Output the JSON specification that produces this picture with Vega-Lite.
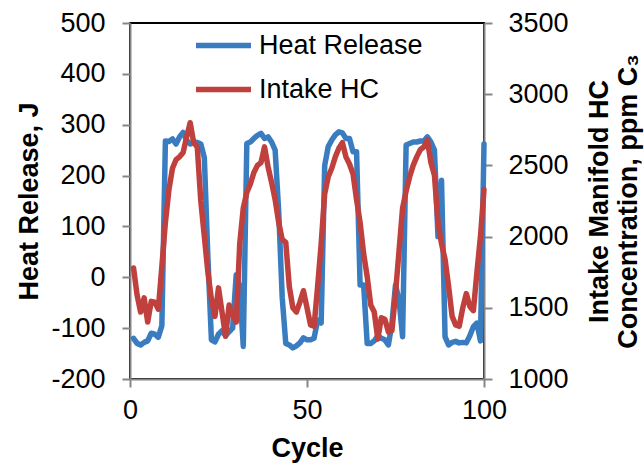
{
  "$schema": "https://vega.github.io/schema/vega-lite/v6.json",
  "width": 354,
  "height": 356,
  "autosize": {"type": "none"},
  "padding": {"left": 130, "top": 23, "right": 160, "bottom": 84},
  "background": "white",
  "config": {
    "font": "Liberation Sans",
    "view": {"stroke": "#000000", "strokeWidth": 2},
    "axis": {
      "grid": false,
      "domainColor": "#868686",
      "domainWidth": 2,
      "tickColor": "#868686",
      "tickWidth": 2,
      "tickSize": 8,
      "labelFont": "Liberation Sans",
      "labelFontSize": 27,
      "labelColor": "#000000",
      "titleFont": "Liberation Sans",
      "titleFontSize": 27,
      "titleFontWeight": "bold",
      "titleColor": "#000000"
    },
    "legend": {
      "labelFont": "Liberation Sans",
      "labelFontSize": 27,
      "labelColor": "#000000",
      "labelLimit": 0
    }
  },
  "data": {
    "values": [
      {"cycle": 1, "hr": -120, "hc": 1780},
      {"cycle": 2, "hr": -130, "hc": 1590},
      {"cycle": 3, "hr": -133, "hc": 1470},
      {"cycle": 4, "hr": -128, "hc": 1570},
      {"cycle": 5, "hr": -125, "hc": 1400},
      {"cycle": 6, "hr": -110, "hc": 1545},
      {"cycle": 7, "hr": -112, "hc": 1540},
      {"cycle": 8, "hr": -118, "hc": 1490},
      {"cycle": 9, "hr": -95, "hc": 1790},
      {"cycle": 10, "hr": 268, "hc": 2100},
      {"cycle": 11, "hr": 267, "hc": 2330},
      {"cycle": 12, "hr": 272, "hc": 2480},
      {"cycle": 13, "hr": 262, "hc": 2540},
      {"cycle": 14, "hr": 276, "hc": 2560},
      {"cycle": 15, "hr": 285, "hc": 2590},
      {"cycle": 16, "hr": 270, "hc": 2700},
      {"cycle": 17, "hr": 262, "hc": 2800},
      {"cycle": 18, "hr": 266, "hc": 2660},
      {"cycle": 19, "hr": 265, "hc": 2630},
      {"cycle": 20, "hr": 262, "hc": 2250},
      {"cycle": 21, "hr": 235, "hc": 2000},
      {"cycle": 22, "hr": 40, "hc": 1750},
      {"cycle": 23, "hr": -123, "hc": 1560},
      {"cycle": 24, "hr": -127, "hc": 1440},
      {"cycle": 25, "hr": -112, "hc": 1640},
      {"cycle": 26, "hr": -105, "hc": 1470},
      {"cycle": 27, "hr": -115, "hc": 1300},
      {"cycle": 28, "hr": -107, "hc": 1520},
      {"cycle": 29, "hr": -100, "hc": 1450},
      {"cycle": 30, "hr": 5, "hc": 1400},
      {"cycle": 31, "hr": -20, "hc": 1950},
      {"cycle": 32, "hr": -136, "hc": 2200},
      {"cycle": 33, "hr": 263, "hc": 2310},
      {"cycle": 34, "hr": 266, "hc": 2370},
      {"cycle": 35, "hr": 273, "hc": 2450},
      {"cycle": 36, "hr": 279, "hc": 2500},
      {"cycle": 37, "hr": 283, "hc": 2520},
      {"cycle": 38, "hr": 273, "hc": 2630},
      {"cycle": 39, "hr": 276, "hc": 2490},
      {"cycle": 40, "hr": 266, "hc": 2380},
      {"cycle": 41, "hr": 250, "hc": 2260},
      {"cycle": 42, "hr": 130, "hc": 2100},
      {"cycle": 43, "hr": -40, "hc": 1980},
      {"cycle": 44, "hr": -130, "hc": 1960},
      {"cycle": 45, "hr": -133, "hc": 1650},
      {"cycle": 46, "hr": -139, "hc": 1500},
      {"cycle": 47, "hr": -135, "hc": 1470},
      {"cycle": 48, "hr": -129, "hc": 1540},
      {"cycle": 49, "hr": -119, "hc": 1620},
      {"cycle": 50, "hr": -123, "hc": 1500},
      {"cycle": 51, "hr": -123, "hc": 1380},
      {"cycle": 52, "hr": -120, "hc": 1370},
      {"cycle": 53, "hr": -84, "hc": 1650},
      {"cycle": 54, "hr": -90, "hc": 1950},
      {"cycle": 55, "hr": 220, "hc": 2300},
      {"cycle": 56, "hr": 257, "hc": 2420},
      {"cycle": 57, "hr": 270, "hc": 2480},
      {"cycle": 58, "hr": 280, "hc": 2560},
      {"cycle": 59, "hr": 286, "hc": 2620},
      {"cycle": 60, "hr": 284, "hc": 2660},
      {"cycle": 61, "hr": 273, "hc": 2560},
      {"cycle": 62, "hr": 273, "hc": 2510},
      {"cycle": 63, "hr": 247, "hc": 2440},
      {"cycle": 64, "hr": 247, "hc": 2260},
      {"cycle": 65, "hr": -15, "hc": 2100},
      {"cycle": 66, "hr": -15, "hc": 1880},
      {"cycle": 67, "hr": -130, "hc": 1720},
      {"cycle": 68, "hr": -130, "hc": 1520},
      {"cycle": 69, "hr": -125, "hc": 1470},
      {"cycle": 70, "hr": -115, "hc": 1280},
      {"cycle": 71, "hr": -120, "hc": 1430},
      {"cycle": 72, "hr": -123, "hc": 1420},
      {"cycle": 73, "hr": -133, "hc": 1330},
      {"cycle": 74, "hr": -90, "hc": 1340},
      {"cycle": 75, "hr": -15, "hc": 1600},
      {"cycle": 76, "hr": -45, "hc": 1900},
      {"cycle": 77, "hr": -117, "hc": 2200},
      {"cycle": 78, "hr": 260, "hc": 2320},
      {"cycle": 79, "hr": 263, "hc": 2420},
      {"cycle": 80, "hr": 266, "hc": 2500},
      {"cycle": 81, "hr": 266, "hc": 2560},
      {"cycle": 82, "hr": 268, "hc": 2610},
      {"cycle": 83, "hr": 268, "hc": 2630},
      {"cycle": 84, "hr": 276, "hc": 2680},
      {"cycle": 85, "hr": 266, "hc": 2520},
      {"cycle": 86, "hr": 250, "hc": 2430},
      {"cycle": 87, "hr": 80, "hc": 2100},
      {"cycle": 88, "hr": 191, "hc": 1950},
      {"cycle": 89, "hr": -117, "hc": 1840},
      {"cycle": 90, "hr": -133, "hc": 1650},
      {"cycle": 91, "hr": -128, "hc": 1440},
      {"cycle": 92, "hr": -126, "hc": 1380},
      {"cycle": 93, "hr": -129, "hc": 1370},
      {"cycle": 94, "hr": -128, "hc": 1500},
      {"cycle": 95, "hr": -129, "hc": 1600},
      {"cycle": 96, "hr": -115, "hc": 1510},
      {"cycle": 97, "hr": -97, "hc": 1480},
      {"cycle": 98, "hr": -90, "hc": 1750},
      {"cycle": 99, "hr": -125, "hc": 2000},
      {"cycle": 100, "hr": 262, "hc": 2330}
    ]
  },
  "encoding": {
    "x": {
      "field": "cycle",
      "type": "quantitative",
      "scale": {"domain": [0, 100], "nice": false, "zero": false},
      "axis": {
        "values": [0, 50, 100],
        "labelPadding": 10,
        "labelFlush": false,
        "title": "Cycle",
        "titleBaseline": "alphabetic",
        "titleY": 77
      }
    }
  },
  "layer": [
    {
      "mark": {"type": "line", "strokeWidth": 5.5, "strokeJoin": "round", "strokeCap": "round"},
      "encoding": {
        "y": {
          "field": "hr",
          "type": "quantitative",
          "scale": {"domain": [-200, 500], "nice": false, "zero": false},
          "axis": {
            "orient": "left",
            "values": [-200, -100, 0, 100, 200, 300, 400, 500],
            "labelPadding": 17,
            "labelFlush": false,
            "labelExpr": "replace(datum.label, '\u2212', '-')",
            "title": "Heat Release, J",
            "titleAngle": 270,
            "titleBaseline": "alphabetic",
            "titleX": -93
          }
        },
        "color": {
          "datum": "Heat Release",
          "type": "nominal",
          "scale": {"domain": ["Heat Release", "Intake HC"], "range": ["#3a7cc0", "#c0403e"]},
          "legend": {
            "title": null,
            "orient": "none",
            "legendX": 63,
            "legendY": -8,
            "padding": 0,
            "symbolType": "stroke",
            "symbolSize": 3025,
            "symbolStrokeWidth": 5.5,
            "labelOffset": 5,
            "labelLimit": 0,
            "rowPadding": -13
          }
        }
      }
    },
    {
      "mark": {"type": "line", "strokeWidth": 5.5, "strokeJoin": "round", "strokeCap": "round"},
      "encoding": {
        "y": {
          "field": "hc",
          "type": "quantitative",
          "scale": {"domain": [1000, 3500], "nice": false, "zero": false},
          "axis": {
            "orient": "right",
            "values": [1000, 1500, 2000, 2500, 3000, 3500],
            "format": "d",
            "labelPadding": 16,
            "labelFlush": false,
            "title": ["Intake Manifold HC", "Concentration, ppm C\u2083"],
            "titleAngle": 270,
            "titleBaseline": "alphabetic",
            "titleLineHeight": 29,
            "titleX": 123
          }
        },
        "color": {"datum": "Intake HC", "type": "nominal"}
      }
    }
  ],
  "resolve": {"scale": {"y": "independent"}}
}
